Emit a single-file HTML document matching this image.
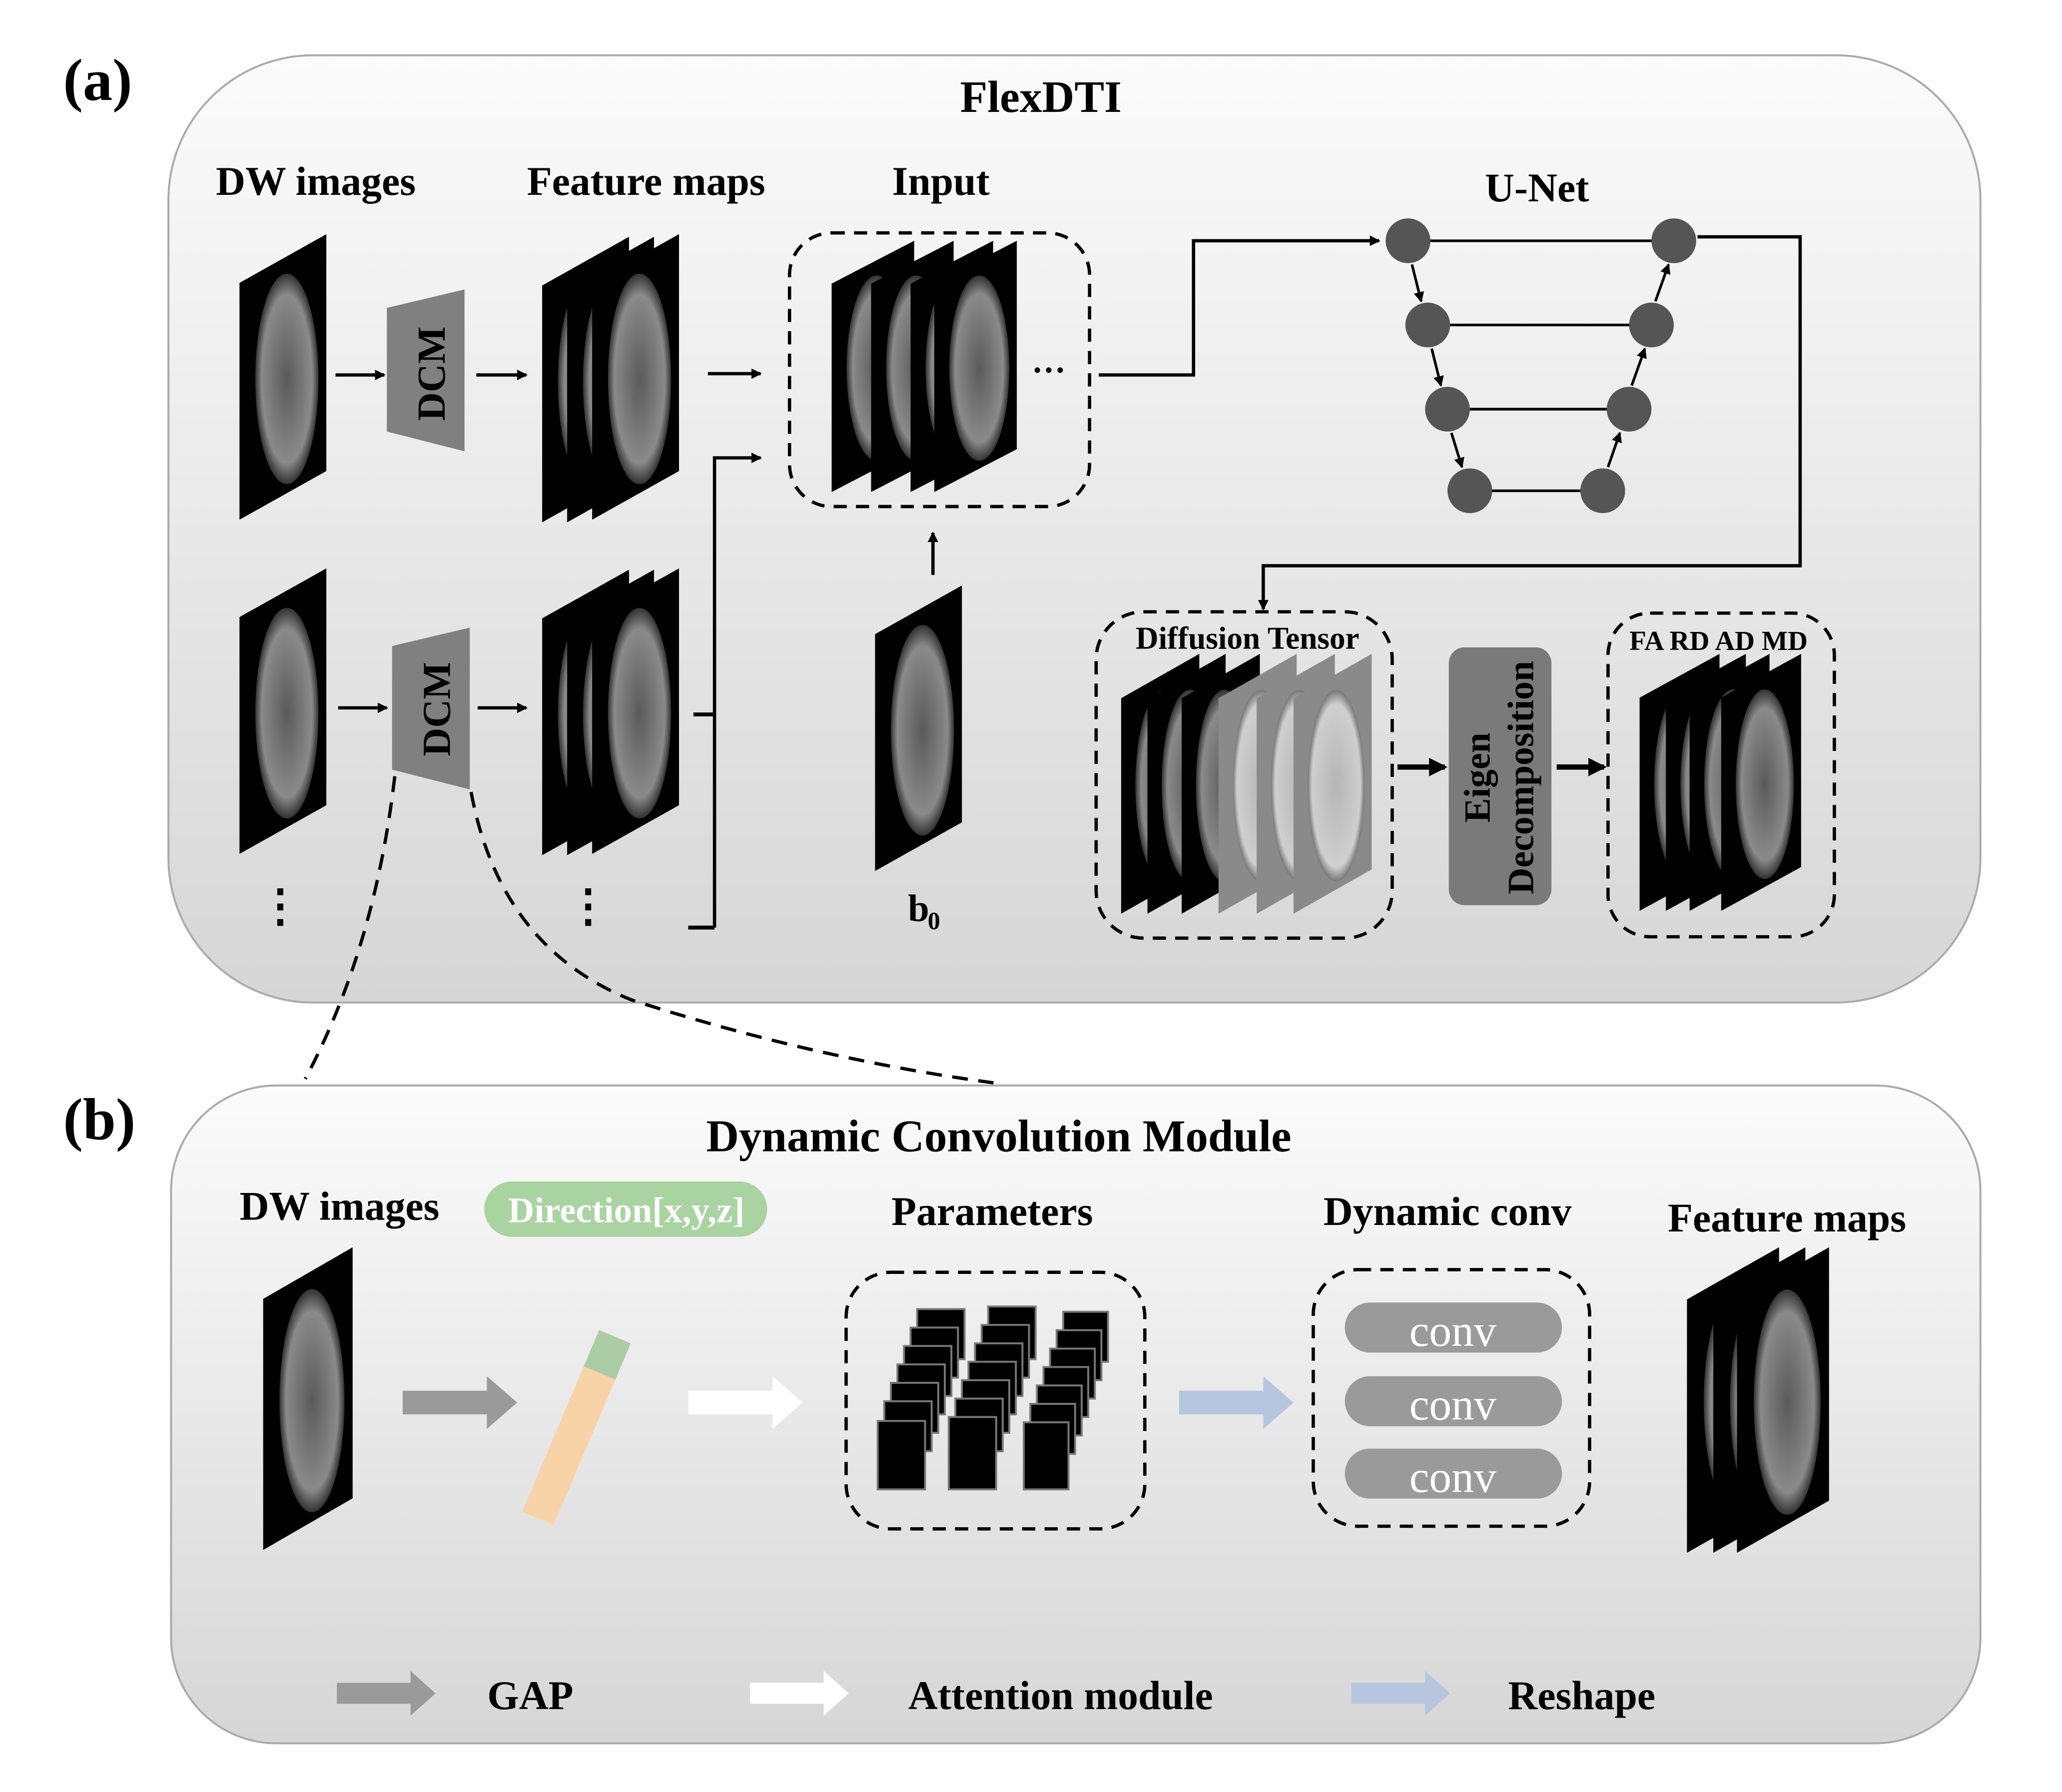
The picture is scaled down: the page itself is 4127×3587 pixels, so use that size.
<!DOCTYPE html>
<html><head><meta charset="utf-8"><style>
html,body{margin:0;padding:0;background:#fff}
svg{display:block}
text{font-family:"Liberation Serif",serif;font-weight:bold;fill:#000}
</style></head><body>
<svg width="4127" height="3587" viewBox="0 0 1567 1362" preserveAspectRatio="none" xmlns="http://www.w3.org/2000/svg">
<defs>
<linearGradient id="pg" x1="0" y1="0" x2="0" y2="1"><stop offset="0" stop-color="#fbfbfb"/><stop offset="1" stop-color="#d6d6d6"/></linearGradient>
<radialGradient id="bg"><stop offset="0" stop-color="#5a5a5a"/><stop offset="0.8" stop-color="#8a8a8a"/><stop offset="1" stop-color="#333"/></radialGradient>
<radialGradient id="bg2"><stop offset="0" stop-color="#b5b5b5"/><stop offset="0.85" stop-color="#cfcfcf"/><stop offset="1" stop-color="#777"/></radialGradient>
<g id="sl"><polygon points="0,37 66,0 66,180 0,217" fill="#000"/><ellipse cx="36" cy="110" rx="24" ry="80" fill="url(#bg)"/></g>
<g id="slg"><polygon points="0,37 66,0 66,180 0,217" fill="#8a8a8a"/><ellipse cx="36" cy="110" rx="24" ry="80" fill="url(#bg2)"/></g>
<marker id="ah" markerWidth="8" markerHeight="8" refX="7" refY="4" orient="auto" markerUnits="userSpaceOnUse"><path d="M0,0 L8,4 L0,8 Z" fill="#000"/></marker>
<marker id="ahb" markerWidth="14" markerHeight="14" refX="12" refY="7" orient="auto" markerUnits="userSpaceOnUse"><path d="M0,0 L14,7 L0,14 Z" fill="#000"/></marker>
</defs>

<!-- Panel a -->
<rect x="128" y="42" width="1377" height="720" rx="110" fill="url(#pg)" stroke="#aaa" stroke-width="1.5"/>
<text x="48" y="76" font-size="45">(a)</text>
<text x="791" y="85" font-size="34" text-anchor="middle">FlexDTI</text>
<text x="240" y="148" font-size="31" text-anchor="middle">DW images</text>
<text x="491" y="148" font-size="31" text-anchor="middle">Feature maps</text>
<text x="715" y="148" font-size="31" text-anchor="middle">Input</text>
<text x="1168" y="153" font-size="31" text-anchor="middle">U-Net</text>

<use href="#sl" transform="translate(182,178)"/>
<use href="#sl" transform="translate(182,432)"/>
<polygon points="294,234 353,220 353,343 294,328" fill="#808080"/>
<text transform="translate(338,284) rotate(-90)" font-size="30" text-anchor="middle">DCM</text>
<polygon points="298,491 357,477 357,600 298,585" fill="#808080"/>
<text transform="translate(342,539) rotate(-90)" font-size="30" text-anchor="middle">DCM</text>
<g stroke="#000" stroke-width="2.5" fill="none" marker-end="url(#ah)">
<line x1="255" y1="285" x2="292" y2="285"/><line x1="362" y1="285" x2="400" y2="285"/>
<line x1="257" y1="538" x2="294" y2="538"/><line x1="363" y1="538" x2="400" y2="538"/>
<line x1="538" y1="284" x2="578" y2="284"/>
<polyline points="543,705 543,348 578,348"/>
<polyline points="835,285 907,285 907,183 1048,183"/>
<polyline points="1290,180 1368,180 1368,430 960,430 960,463"/>
<line x1="709" y1="437" x2="709" y2="405"/>
<line x1="467" y1="940" x2="467" y2="1003"/>
<line x1="1223" y1="1065" x2="1272" y2="1065"/>
<polyline points="242,1192 242,1235 1110,1235 1110,1185"/>
</g>
<g stroke="#000" stroke-width="3"><line x1="527" y1="543" x2="543" y2="543"/><line x1="523" y1="705" x2="543" y2="705"/></g>
<use href="#sl" transform="translate(412,180)"/><use href="#sl" transform="translate(431,180)"/><use href="#sl" transform="translate(450,178)"/>
<use href="#sl" transform="translate(412,433)"/><use href="#sl" transform="translate(431,433)"/><use href="#sl" transform="translate(450,432)"/>
<text x="213" y="700" font-size="34" text-anchor="middle">⋮</text>
<text x="447" y="700" font-size="34" text-anchor="middle">⋮</text>
<rect x="600" y="177" width="228" height="208" rx="32" fill="none" stroke="#000" stroke-width="2.5" stroke-dasharray="10,7"/>
<use href="#sl" transform="translate(632,183) scale(0.95,0.88)"/><use href="#sl" transform="translate(662,183) scale(0.95,0.88)"/><use href="#sl" transform="translate(692,183) scale(0.95,0.88)"/><use href="#sl" transform="translate(710,183) scale(0.95,0.88)"/>
<text x="797" y="290" font-size="26" text-anchor="middle">···</text>
<use href="#sl" transform="translate(665,445)"/>
<text x="690" y="700" font-size="29">b</text><text x="705" y="706" font-size="19">0</text>
<g stroke="#000" stroke-width="2">
<line x1="1070" y1="183" x2="1272" y2="183"/><line x1="1085" y1="247" x2="1255" y2="247"/><line x1="1100" y1="311" x2="1238" y2="311"/><line x1="1117" y1="373" x2="1218" y2="373"/>
</g>
<g stroke="#000" stroke-width="2" marker-end="url(#ah)">
<line x1="1073" y1="201" x2="1080" y2="229"/><line x1="1088" y1="265" x2="1095" y2="293"/><line x1="1103" y1="329" x2="1111" y2="355"/>
<line x1="1222" y1="355" x2="1231" y2="329"/><line x1="1240" y1="293" x2="1250" y2="265"/><line x1="1258" y1="229" x2="1268" y2="201"/>
</g>
<g fill="#555"><circle cx="1070" cy="183" r="17"/><circle cx="1272" cy="183" r="17"/><circle cx="1085" cy="247" r="17"/><circle cx="1255" cy="247" r="17"/><circle cx="1100" cy="311" r="17"/><circle cx="1238" cy="311" r="17"/><circle cx="1117" cy="373" r="17"/><circle cx="1218" cy="373" r="17"/></g>
<rect x="833" y="465" width="225" height="248" rx="36" fill="none" stroke="#000" stroke-width="2.5" stroke-dasharray="10,7"/>
<text x="948" y="493" font-size="24" text-anchor="middle">Diffusion Tensor</text>
<g transform="translate(852,497) scale(0.9,0.91)"><use href="#sl"/></g>
<g transform="translate(872,497) scale(0.9,0.91)"><use href="#sl"/></g>
<g transform="translate(898,497) scale(0.9,0.91)"><use href="#sl"/></g>
<g transform="translate(926,497) scale(0.9,0.91)"><use href="#slg"/></g>
<g transform="translate(955,497) scale(0.9,0.91)"><use href="#slg"/></g>
<g transform="translate(983,497) scale(0.9,0.91)"><use href="#slg"/></g>
<g stroke="#000" stroke-width="4" marker-end="url(#ahb)"><line x1="1062" y1="583" x2="1098" y2="583"/><line x1="1183" y1="583" x2="1219" y2="583"/></g>
<rect x="1101" y="492" width="78" height="196" rx="12" fill="#7a7a7a"/>
<text transform="translate(1132,591) rotate(-90)" font-size="28" text-anchor="middle">Eigen</text>
<text transform="translate(1165,591) rotate(-90)" font-size="28" text-anchor="middle">Decomposition</text>
<rect x="1222" y="466" width="172" height="246" rx="32" fill="none" stroke="#000" stroke-width="2.5" stroke-dasharray="10,7"/>
<text x="1306" y="494" font-size="21" text-anchor="middle">FA RD AD MD</text>
<g transform="translate(1246,497) scale(0.92,0.9)"><use href="#sl"/></g>
<g transform="translate(1266,497) scale(0.92,0.9)"><use href="#sl"/></g>
<g transform="translate(1284,497) scale(0.92,0.9)"><use href="#sl"/></g>
<g transform="translate(1308,497) scale(0.92,0.9)"><use href="#sl"/></g>
<g stroke="#000" stroke-width="2.5" fill="none" stroke-dasharray="12,8">
<path d="M300,590 Q285,720 232,820"/>
<path d="M358,602 Q380,720 480,760 Q620,805 755,823"/>
</g>

<!-- Panel b -->
<rect x="130" y="825" width="1375" height="500" rx="80" fill="url(#pg)" stroke="#aaa" stroke-width="1.5"/>
<text x="48" y="866" font-size="45">(b)</text>
<text x="759" y="875" font-size="34.5" text-anchor="middle">Dynamic Convolution Module</text>
<text x="258" y="927" font-size="31" text-anchor="middle">DW images</text>
<rect x="368" y="898" width="215" height="42" rx="21" fill="#a9d3a0"/>
<text x="476" y="929" font-size="27.5" text-anchor="middle" style="fill:#fff">Direction[x,y,z]</text>
<text x="754" y="931" font-size="31" text-anchor="middle">Parameters</text>
<text x="1100" y="931" font-size="31" text-anchor="middle">Dynamic conv</text>
<text x="1358" y="936" font-size="31" text-anchor="middle">Feature maps</text>
<use href="#sl" transform="translate(200,948) scale(1.03,1.06)"/>
<polygon points="306,1057 370,1057 370,1046 393,1066 370,1086 370,1075 306,1075" fill="#9a9a9a"/>
<polygon points="523,1057 587,1057 587,1046 610,1066 587,1086 587,1075 523,1075" fill="#fff"/>
<polygon points="896,1057 960,1057 960,1046 983,1066 960,1086 960,1075 896,1075" fill="#b6c6df"/>
<g transform="translate(438,1085) rotate(23)">
<rect x="-13" y="-75" width="26" height="150" fill="#f9d3a8"/>
<rect x="-13" y="-75" width="26" height="30" fill="#acccA6"/>
</g>
<rect x="643" y="967" width="227" height="195" rx="34" fill="none" stroke="#000" stroke-width="2.5" stroke-dasharray="10,7"/>
<g fill="#000" stroke="#777" stroke-width="1.5">
<rect x="697" y="995" width="36" height="38"/><rect x="692" y="1009" width="36" height="38"/><rect x="687" y="1023" width="36" height="38"/><rect x="682" y="1037" width="36" height="38"/><rect x="677" y="1051" width="36" height="38"/><rect x="672" y="1065" width="36" height="38"/><rect x="667" y="1080" width="36" height="52"/>
<rect x="751" y="993" width="36" height="40"/><rect x="746" y="1007" width="36" height="40"/><rect x="741" y="1021" width="36" height="40"/><rect x="736" y="1035" width="36" height="40"/><rect x="731" y="1049" width="36" height="40"/><rect x="726" y="1063" width="36" height="40"/><rect x="721" y="1077" width="36" height="55"/>
<rect x="808" y="997" width="34" height="38"/><rect x="803" y="1011" width="34" height="38"/><rect x="798" y="1025" width="34" height="38"/><rect x="793" y="1039" width="34" height="38"/><rect x="788" y="1053" width="34" height="38"/><rect x="783" y="1067" width="34" height="38"/><rect x="778" y="1081" width="34" height="51"/>
</g>
<rect x="998" y="965" width="210" height="195" rx="34" fill="none" stroke="#000" stroke-width="2.5" stroke-dasharray="10,7"/>
<g fill="#9a9a9a"><rect x="1022" y="990" width="165" height="38" rx="19"/><rect x="1022" y="1046" width="165" height="38" rx="19"/><rect x="1022" y="1101" width="165" height="38" rx="19"/></g>
<g font-size="34" text-anchor="middle"><text x="1104" y="1023" style="fill:#fff;font-weight:normal">conv</text><text x="1104" y="1079" style="fill:#fff;font-weight:normal">conv</text><text x="1104" y="1134" style="fill:#fff;font-weight:normal">conv</text></g>
<use href="#sl" transform="translate(1282,948) scale(1.06,1.07)"/><use href="#sl" transform="translate(1302,948) scale(1.06,1.07)"/><use href="#sl" transform="translate(1320,948) scale(1.06,1.07)"/>
<polygon points="256,1279 312,1279 312,1270 331,1287 312,1304 312,1295 256,1295" fill="#9a9a9a"/>
<text x="403" y="1299" font-size="31" text-anchor="middle">GAP</text>
<polygon points="570,1279 626,1279 626,1270 645,1287 626,1304 626,1295 570,1295" fill="#fff"/>
<text x="806" y="1299" font-size="31" text-anchor="middle">Attention module</text>
<polygon points="1027,1279 1083,1279 1083,1270 1102,1287 1083,1304 1083,1295 1027,1295" fill="#b6c6df"/>
<text x="1202" y="1299" font-size="31" text-anchor="middle">Reshape</text>
</svg>
</body></html>
